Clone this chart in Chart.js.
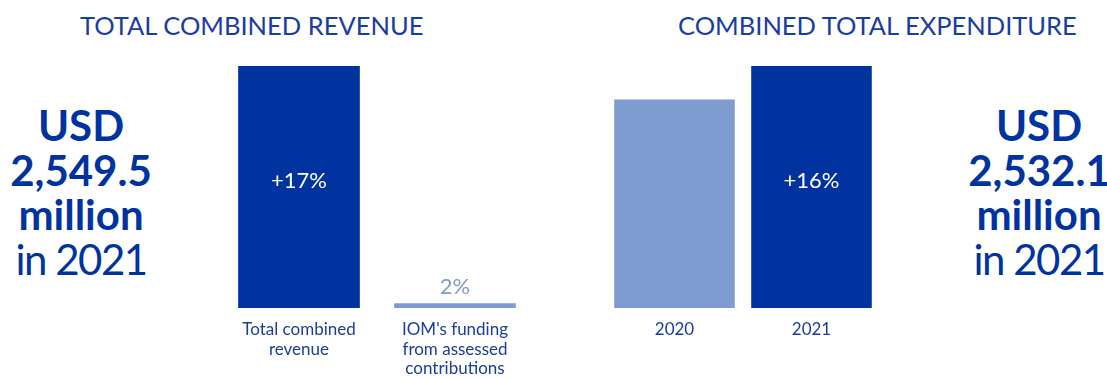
<!DOCTYPE html>
<html>
<head>
<meta charset="utf-8">
<script src="https://cdn.jsdelivr.net/npm/chart.js@4"></script>
<style>
  body { margin: 0; background: #fff; font-family: Lato, sans-serif; color: #0033a0; }
  .page { position: relative; width: 1107px; height: 378px; overflow: hidden; }
  .title { position: absolute; top: 10px; font-size: 25.5px; font-weight: 400; white-space: nowrap; color: #1a3ca6; }
  .big { position: absolute; top: 103px; width: 170px; text-align: center; font-size: 42px; line-height: 44.5px; font-weight: 700; }
  .big .yr { font-weight: 400; letter-spacing: -1.5px; }
  .box { position: absolute; top: 0; height: 378px; }
</style>
</head>
<body>
<div class="page">
  <div class="title" style="left:80px">TOTAL COMBINED REVENUE</div>
  <div class="title" style="left:678px">COMBINED TOTAL EXPENDITURE</div>

  <div class="big" style="left:-4px">USD<br>2,549.5<br>million<br><span class="yr">in 2021</span></div>
  <div class="big" style="left:954px">USD<br>2,532.1<br>million<br><span class="yr">in 2021</span></div>

  <div class="box" style="left:221px; width:312px"><canvas id="revenueChart"></canvas></div>
  <div class="box" style="left:606px; width:274px"><canvas id="expenditureChart"></canvas></div>
</div>

<script>
// revenue, USD million
const revenueLabels = [['Total combined', 'revenue'], ["IOM's funding", 'from assessed', 'contributions']];
const revenueValues = [2549.5, 51.0];
const revenueNotes = ['+17%', '2%'];

// expenditure, USD million
const expenditureLabels = ['2020', '2021'];
const expenditureValues = [2182.8, 2532.1];
const expenditureNotes = ['', '+16%'];

const DARK = '#0033a0';
const LIGHT = '#809bd0';

// writes the note for each bar: inside the bar if it is tall, above it otherwise
const barNotes = {
  id: 'barNotes',
  afterDatasetsDraw(chart, args, opts) {
    const ctx = chart.ctx;
    const meta = chart.getDatasetMeta(0);
    ctx.save();
    ctx.textAlign = 'center';
    ctx.textBaseline = 'middle';
    ctx.font = '400 22px Lato';
    meta.data.forEach((bar, i) => {
      const note = opts.notes[i];
      if (!note) return;
      const h = bar.base - bar.y;
      if (h > 60) {
        ctx.fillStyle = '#fff';
        ctx.fillText(note, bar.x, 181);
      } else {
        ctx.fillStyle = LIGHT;
        ctx.fillText(note, bar.x, bar.y - 16);
      }
    });
    ctx.restore();
  }
};

function makeChart(id, labels, values, colors, notes, barPct) {
  return new Chart(document.getElementById(id), {
    type: 'bar',
    data: {
      labels: labels,
      datasets: [{
        data: values,
        backgroundColor: colors,
        borderWidth: 0,
        barPercentage: barPct,
        categoryPercentage: 1
      }]
    },
    options: {
      responsive: true,
      maintainAspectRatio: false,
      animation: false,
      layout: { padding: { top: 66, left: 0, right: 0, bottom: 0 } },
      plugins: {
        legend: { display: false },
        tooltip: { enabled: false },
        barNotes: { notes: notes }
      },
      scales: {
        x: {
          grid: { display: false, drawTicks: false },
          border: { display: false },
          ticks: {
            color: '#1a3ca6',
            font: { family: 'Lato', size: 17, lineHeight: 1.15 },
            padding: 12,
            maxRotation: 0,
            autoSkip: false
          },
          afterFit(scale) { scale.height = 70; }
        },
        y: {
          display: false,
          min: 0,
          max: Math.max(...values)
        }
      }
    },
    plugins: [barNotes]
  });
}

makeChart('revenueChart', revenueLabels, revenueValues, [DARK, LIGHT], revenueNotes, 0.78);
makeChart('expenditureChart', expenditureLabels, expenditureValues, [LIGHT, DARK], expenditureNotes, 0.88);
</script>
</body>
</html>
